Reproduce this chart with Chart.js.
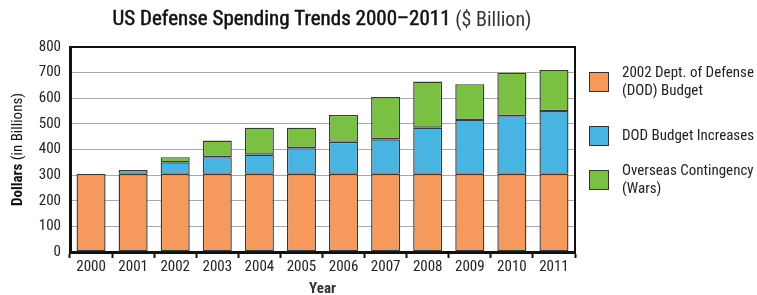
<!DOCTYPE html>
<html>
<head>
<meta charset="utf-8">
<script src="https://cdn.jsdelivr.net/npm/chart.js@4"></script>
<style>
  body { margin: 0; background: #fff; }
  #wrap { width: 757px; height: 295px; }
</style>
</head>
<body>
<div id="wrap"><canvas id="chart" width="757" height="295"></canvas></div>
<script>
// values, $ billion
const years = ['2000', '2001', '2002', '2003', '2004', '2005', '2006', '2007', '2008', '2009', '2010', '2011'];
const dodBudget2002 = [305, 305, 305, 305, 305, 305, 305, 305, 305, 305, 305, 305];
const dodIncreases = [0, 15, 45, 65, 75, 100, 125, 135, 180, 210, 225, 245];
const overseasWars = [0, 0, 20, 65, 105, 80, 105, 165, 180, 140, 170, 160];
const legendLines = [
    ['2002 Dept. of Defense', '(DOD) Budget'],
    ['DOD Budget Increases'],
    ['Overseas Contingency', '(Wars)']
];

const FONT = "'Liberation Sans Narrow', 'Arial Narrow', 'Roboto Condensed', Roboto, sans-serif";
const colors = ['#F5995C', '#47B4E1', '#7AC143'];

// titles, frame and legend drawn by hand
const decor = {
    id: 'decor',
    afterDraw(chart) {
        const ctx = chart.ctx;
        const a = chart.chartArea;
        ctx.save();

        // frame top + right
        ctx.strokeStyle = '#111';
        ctx.lineWidth = 2;
        ctx.beginPath();
        ctx.moveTo(a.left, a.top);
        ctx.lineTo(a.right, a.top);
        ctx.lineTo(a.right, a.bottom);
        ctx.stroke();

        // main title (regular, thickened a little)
        const t1 = 'US Defense Spending Trends 2000\u20132011 ';
        const t2 = '($ Billion)';
        ctx.textBaseline = 'middle';
        ctx.textAlign = 'left';
        ctx.font = '21px ' + FONT;
        const w1 = ctx.measureText(t1).width;
        ctx.font = '20px ' + FONT;
        const w2 = ctx.measureText(t2).width;
        let x = 322 - (w1 + w2) / 2;
        ctx.font = '21px ' + FONT;
        ctx.fillStyle = '#111';
        ctx.strokeStyle = '#111';
        ctx.lineWidth = 0.5;
        ctx.fillText(t1, x, 20);
        ctx.strokeText(t1, x, 20);
        ctx.font = '20px ' + FONT;
        ctx.fillStyle = '#333';
        ctx.fillText(t2, x + w1, 21);

        // y axis title, rotated
        ctx.save();
        ctx.translate(18, (a.top + a.bottom) / 2);
        ctx.rotate(-Math.PI / 2);
        const y1 = 'Dollars ';
        const y2 = '(in Billions)';
        ctx.font = 'bold 15px ' + FONT;
        const yw1 = ctx.measureText(y1).width;
        ctx.font = '15px ' + FONT;
        const yw2 = ctx.measureText(y2).width;
        ctx.fillStyle = '#111';
        ctx.font = 'bold 15px ' + FONT;
        ctx.fillText(y1, -(yw1 + yw2) / 2, 0);
        ctx.font = '15px ' + FONT;
        ctx.fillText(y2, -(yw1 + yw2) / 2 + yw1, 0);
        ctx.restore();

        // x axis title
        ctx.font = 'bold 15px ' + FONT;
        ctx.textAlign = 'center';
        ctx.fillText('Year', (a.left + a.right) / 2, 289);

        // legend
        const boxTops = [72, 126, 170];
        ctx.textAlign = 'left';
        ctx.font = '15px ' + FONT;
        chart.data.datasets.forEach((ds, i) => {
            const by = boxTops[i];
            ctx.fillStyle = ds.backgroundColor;
            ctx.fillRect(589, by, 20, 20);
            ctx.strokeStyle = '#333';
            ctx.lineWidth = 1;
            ctx.strokeRect(589.5, by + 0.5, 19, 19);
            ctx.fillStyle = '#222';
            const lines = legendLines[i];
            const start = by + 10 - (lines.length - 1) * 18.5 / 2;
            lines.forEach((ln, j) => ctx.fillText(ln, 622, start + j * 18.5));
        });

        ctx.restore();
    }
};

new Chart(document.getElementById('chart').getContext('2d'), {
    type: 'bar',
    data: {
        labels: years,
        datasets: [
            { label: legendLines[0].join(' '), data: dodBudget2002, backgroundColor: colors[0] },
            { label: legendLines[1].join(' '), data: dodIncreases, backgroundColor: colors[1] },
            { label: legendLines[2].join(' '), data: overseasWars, backgroundColor: colors[2] }
        ].map(d => Object.assign(d, {
            borderColor: '#3a3a3a',
            borderWidth: 1.4,
            borderSkipped: false,
            categoryPercentage: 1,
            barPercentage: 0.69
        }))
    },
    options: {
        responsive: false,
        animation: false,
        layout: { padding: { top: 47, right: 182, bottom: 0, left: 0 } },
        plugins: {
            legend: { display: false },
            title: { display: false },
            tooltip: { enabled: false }
        },
        scales: {
            x: {
                stacked: true,
                grid: {
                    offset: true,
                    drawOnChartArea: false,
                    drawTicks: true,
                    tickLength: 6,
                    tickColor: '#111',
                    tickWidth: 2
                },
                border: { color: '#111', width: 3 },
                ticks: { color: '#222', font: { family: FONT, size: 15 }, padding: 0 },
                afterFit(s) { s.height = 43; }
            },
            y: {
                stacked: true,
                min: 0,
                max: 800,
                ticks: { stepSize: 100, color: '#222', font: { family: FONT, size: 15 }, padding: 9 },
                grid: { color: '#aaa', lineWidth: 1, drawTicks: false },
                border: { color: '#111', width: 3 },
                afterFit(s) { s.width = 70; }
            }
        }
    },
    plugins: [decor]
});
</script>
</body>
</html>
